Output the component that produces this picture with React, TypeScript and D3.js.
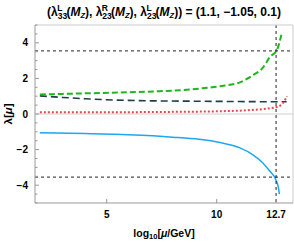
import React from "react";
import * as d3 from "d3";

const width = 294;
const height = 245;
const margin = { top: 25, right: 1, bottom: 42, left: 35 };

// log10(mu/GeV) sample points
const greenX = [1.96, 3, 4.7, 6, 7.4, 8.5, 9.24, 10.15, 11.06, 11.65, 12.1, 12.42, 12.74, 12.95];
const greenY = [1.1, 1.13, 1.18, 1.22, 1.28, 1.35, 1.43, 1.56, 1.78, 2.18, 2.6, 3.2, 3.6, 4.5];
const darkX = [1.96, 3, 4, 5, 7, 9, 11, 12.5, 13.18];
const darkY = [1.02, 0.93, 0.86, 0.8, 0.74, 0.72, 0.7, 0.69, 0.69];
const redX = [1.96, 5, 8, 10, 11.5, 12.4, 12.8, 13.0, 13.2];
const redY = [0.1, 0.1, 0.12, 0.15, 0.22, 0.32, 0.42, 0.6, 1.0];
const blueX = [1.96, 4, 6, 8, 9.2, 10.15, 11.06, 11.65, 12.1, 12.42, 12.69, 12.8, 12.85];
const blueY = [-1.05, -1.1, -1.17, -1.3, -1.42, -1.6, -1.9, -2.29, -2.75, -3.22, -3.69, -4.1, -4.5];

const xTicks = [5, 10, 12.7];
const yTicks = [-4, -2, 0, 2, 4];
const yMinor = d3.range(-5, 5.01, 0.5);
const bound = Math.sqrt(4 * Math.PI);
const cutoff = 12.7;

const x = d3.scaleLinear().domain([1.74, 13.47]).range([margin.left, width - margin.right]);
const y = d3.scaleLinear().domain([-5, 5]).range([height - margin.bottom, margin.top]);

const line = d3
  .line<[number, number]>()
  .x(d => x(d[0]))
  .y(d => y(d[1]))
  .curve(d3.curveMonotoneX);

const pts = (xs: number[], ys: number[]) => xs.map((v, i) => [v, ys[i]] as [number, number]);

const series = [
  { d: pts(darkX, darkY), color: "#1e3f48", dash: "7,4", w: 1.6 },
  { d: pts(redX, redY), color: "#e5484d", dash: "2,2", w: 2 },
  { d: pts(greenX, greenY), color: "#21b51f", dash: "6,3", w: 2 },
  { d: pts(blueX, blueY), color: "#1aa8f0", dash: null, w: 1.5 }
];

export default function App() {
  const x0 = margin.left;
  const x1 = width - margin.right;
  const y0 = height - margin.bottom;
  const y1 = margin.top;
  const font = "Liberation Sans, Arial, sans-serif";
  return (
    <svg
      width={width}
      height={height}
      style={{ position: "absolute", left: 0, top: 0, background: "#fff" }}
      fontFamily={font}
    >
      <defs>
        <clipPath id="plot">
          <rect x={x0} y={y1} width={x1 - x0} height={y0 - y1} />
        </clipPath>
      </defs>
      <text x={(x0 + x1) / 2} y={16} textAnchor="middle" fontSize={12} fontWeight="bold">
        (λ<tspan fontSize={8.5} dy={3}>33</tspan>
        <tspan fontSize={8.5} dx={-10} dy={-8}>L</tspan>
        <tspan dy={5} dx={4}>(</tspan>
        <tspan fontStyle="italic">M</tspan>
        <tspan fontSize={7.5} fontStyle="italic" dy={2}>Z</tspan>
        <tspan dy={-2}>), λ</tspan>
        <tspan fontSize={8.5} dy={3}>23</tspan>
        <tspan fontSize={8.5} dx={-10} dy={-8}>R</tspan>
        <tspan dy={5} dx={3}>(</tspan>
        <tspan fontStyle="italic">M</tspan>
        <tspan fontSize={7.5} fontStyle="italic" dy={2}>Z</tspan>
        <tspan dy={-2}>), λ</tspan>
        <tspan fontSize={8.5} dy={3}>23</tspan>
        <tspan fontSize={8.5} dx={-10} dy={-8}>L</tspan>
        <tspan dy={5} dx={4}>(</tspan>
        <tspan fontStyle="italic">M</tspan>
        <tspan fontSize={7.5} fontStyle="italic" dy={2}>Z</tspan>
        <tspan dy={-2}>)) = (1.1, −1.05, 0.1)</tspan>
      </text>

      {/* zero line */}
      <line x1={x0} x2={x1} y1={y(0)} y2={y(0)} stroke="#cfcfcf" strokeWidth={1} />

      <g clipPath="url(#plot)">
        {series.map((s, i) => (
          <path
            key={i}
            d={line(s.d) || ""}
            fill="none"
            stroke={s.color}
            strokeWidth={s.w}
            strokeDasharray={s.dash || undefined}
          />
        ))}
      </g>

      {/* perturbativity bounds and cutoff */}
      {[bound, -bound].map(b => (
        <line key={b} x1={x0} x2={x1} y1={y(b)} y2={y(b)} stroke="#222" strokeWidth={1} strokeDasharray="3,3" />
      ))}
      <line x1={x(cutoff)} x2={x(cutoff)} y1={y1} y2={y0} stroke="#222" strokeWidth={1} strokeDasharray="3,3" />

      {/* frame */}
      <line x1={x0} x2={x1} y1={y1} y2={y1} stroke="#cccccc" />
      <line x1={x1} x2={x1} y1={y1} y2={y0} stroke="#cccccc" />
      <line x1={x0} x2={x0} y1={y1} y2={y0} stroke="#999" />
      <line x1={x0} x2={x1} y1={y0} y2={y0} stroke="#999" />

      {yMinor.map(t => (
        <line
          key={t}
          x1={x0}
          x2={x0 + (t % 2 === 0 ? 4 : 2.5)}
          y1={y(t)}
          y2={y(t)}
          stroke="#999"
        />
      ))}
      {yTicks.map(t => (
        <text key={t} x={x0 - 7} y={y(t) + 3.5} textAnchor="end" fontSize={10} fontWeight="bold">
          {t < 0 ? "−" + Math.abs(t) : t}
        </text>
      ))}

      {xTicks.map(t => (
        <g key={t}>
          <line x1={x(t)} x2={x(t)} y1={y0} y2={y0 - 4} stroke="#999" />
          <text x={x(t)} y={y0 + 15} textAnchor="middle" fontSize={10} fontWeight="bold">
            {t}
          </text>
        </g>
      ))}

      <text x={(x0 + x1) / 2} y={237} textAnchor="middle" fontSize={10.5} fontWeight="bold">
        log<tspan fontSize={7.5} dy={2}>10</tspan>
        <tspan dy={-2}>[</tspan>
        <tspan fontStyle="italic">μ</tspan>/GeV]
      </text>

      <text
        transform={`translate(12, ${(y0 + y1) / 2}) rotate(-90)`}
        textAnchor="middle"
        fontSize={11.5}
        fontWeight="bold"
      >
        λ[<tspan fontStyle="italic">μ</tspan>]
      </text>
    </svg>
  );
}
